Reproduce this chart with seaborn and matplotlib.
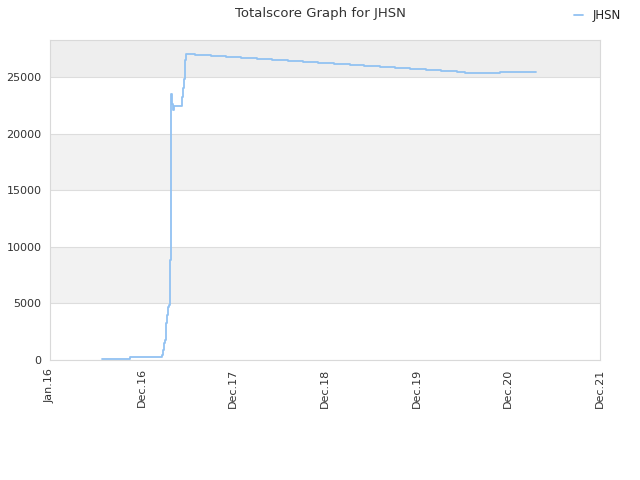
import matplotlib
matplotlib.use("Agg")
import matplotlib.pyplot as plt
import seaborn as sns
import pandas as pd

# months since Jan 2016, total score
months = [6.8, 9.7, 10.5, 14.66, 14.79, 14.92, 15.05, 15.15, 15.28, 15.41, 15.58,
          15.71, 15.75, 15.76, 15.84, 15.97, 16.10, 16.23, 17.28, 17.41, 17.54,
          17.67, 17.80, 18.98, 21.08, 23.04, 25.0, 27.1, 29.06, 31.15, 33.1,
          35.1, 37.2, 39.3, 41.1, 43.2, 45.2, 47.1, 49.2, 51.2, 53.3, 54.3,
          58.9, 63.6]
scores = [50, 130, 240, 400, 900, 1500, 1800, 3300, 4000, 4700, 4900,
          5100, 7000, 8800, 23500, 22600, 22100, 22400, 23200, 24000, 24800,
          26500, 27000, 26944, 26855, 26767, 26679, 26590, 26502, 26414, 26325,
          26237, 26149, 26060, 25970, 25880, 25794, 25705, 25617, 25528, 25440, 25352,
          25440, 25440]

tick_pos = [0, 12, 24, 36, 48, 60, 72]
tick_labels = ["Jan.16", "Dec.16", "Dec.17", "Dec.18", "Dec.19", "Dec.20", "Dec.21"]

df = pd.DataFrame({"month": months, "score": scores, "player": "JHSN"})

sns.set_style("white")
fig = plt.figure(figsize=(6.4, 4.8), dpi=100)
ax = fig.add_axes([50 / 640, 120 / 480, 550 / 640, 320 / 480])

# alternating background bands
for lo, hi, c in [(5000, 10000, "#f2f2f2"), (15000, 20000, "#f2f2f2"), (25000, 30000, "#eeeeee")]:
    ax.axhspan(lo, hi, color=c, zorder=0, lw=0)

sns.lineplot(data=df, x="month", y="score", hue="player", palette=["#92c2f2"],
             drawstyle="steps-post", linewidth=1.3, ax=ax, zorder=3)

ax.set_xlim(0, 72)
ax.set_ylim(0, 28270)
ax.set_yticks([0, 5000, 10000, 15000, 20000, 25000])
ax.set_xticks(tick_pos)
ax.set_xticklabels(tick_labels, rotation=90)
ax.tick_params(length=0, labelsize=8, colors="#333333", pad=6)
ax.grid(axis="y", color="#dddddd", linewidth=0.8)
ax.set_axisbelow(True)
for s in ax.spines.values():
    s.set_color("#d9d9d9")
    s.set_linewidth(0.8)
ax.set_xlabel("")
ax.set_ylabel("")

ax.legend(loc="upper right", bbox_to_anchor=(1.057, 1.13), frameon=False,
          fontsize=8.5, handlelength=0.8, labelcolor="#222222")
fig.suptitle("Totalscore Graph for JHSN", y=0.985, fontsize=9.5, color="#333333")

fig.savefig("out.png", dpi=100)
